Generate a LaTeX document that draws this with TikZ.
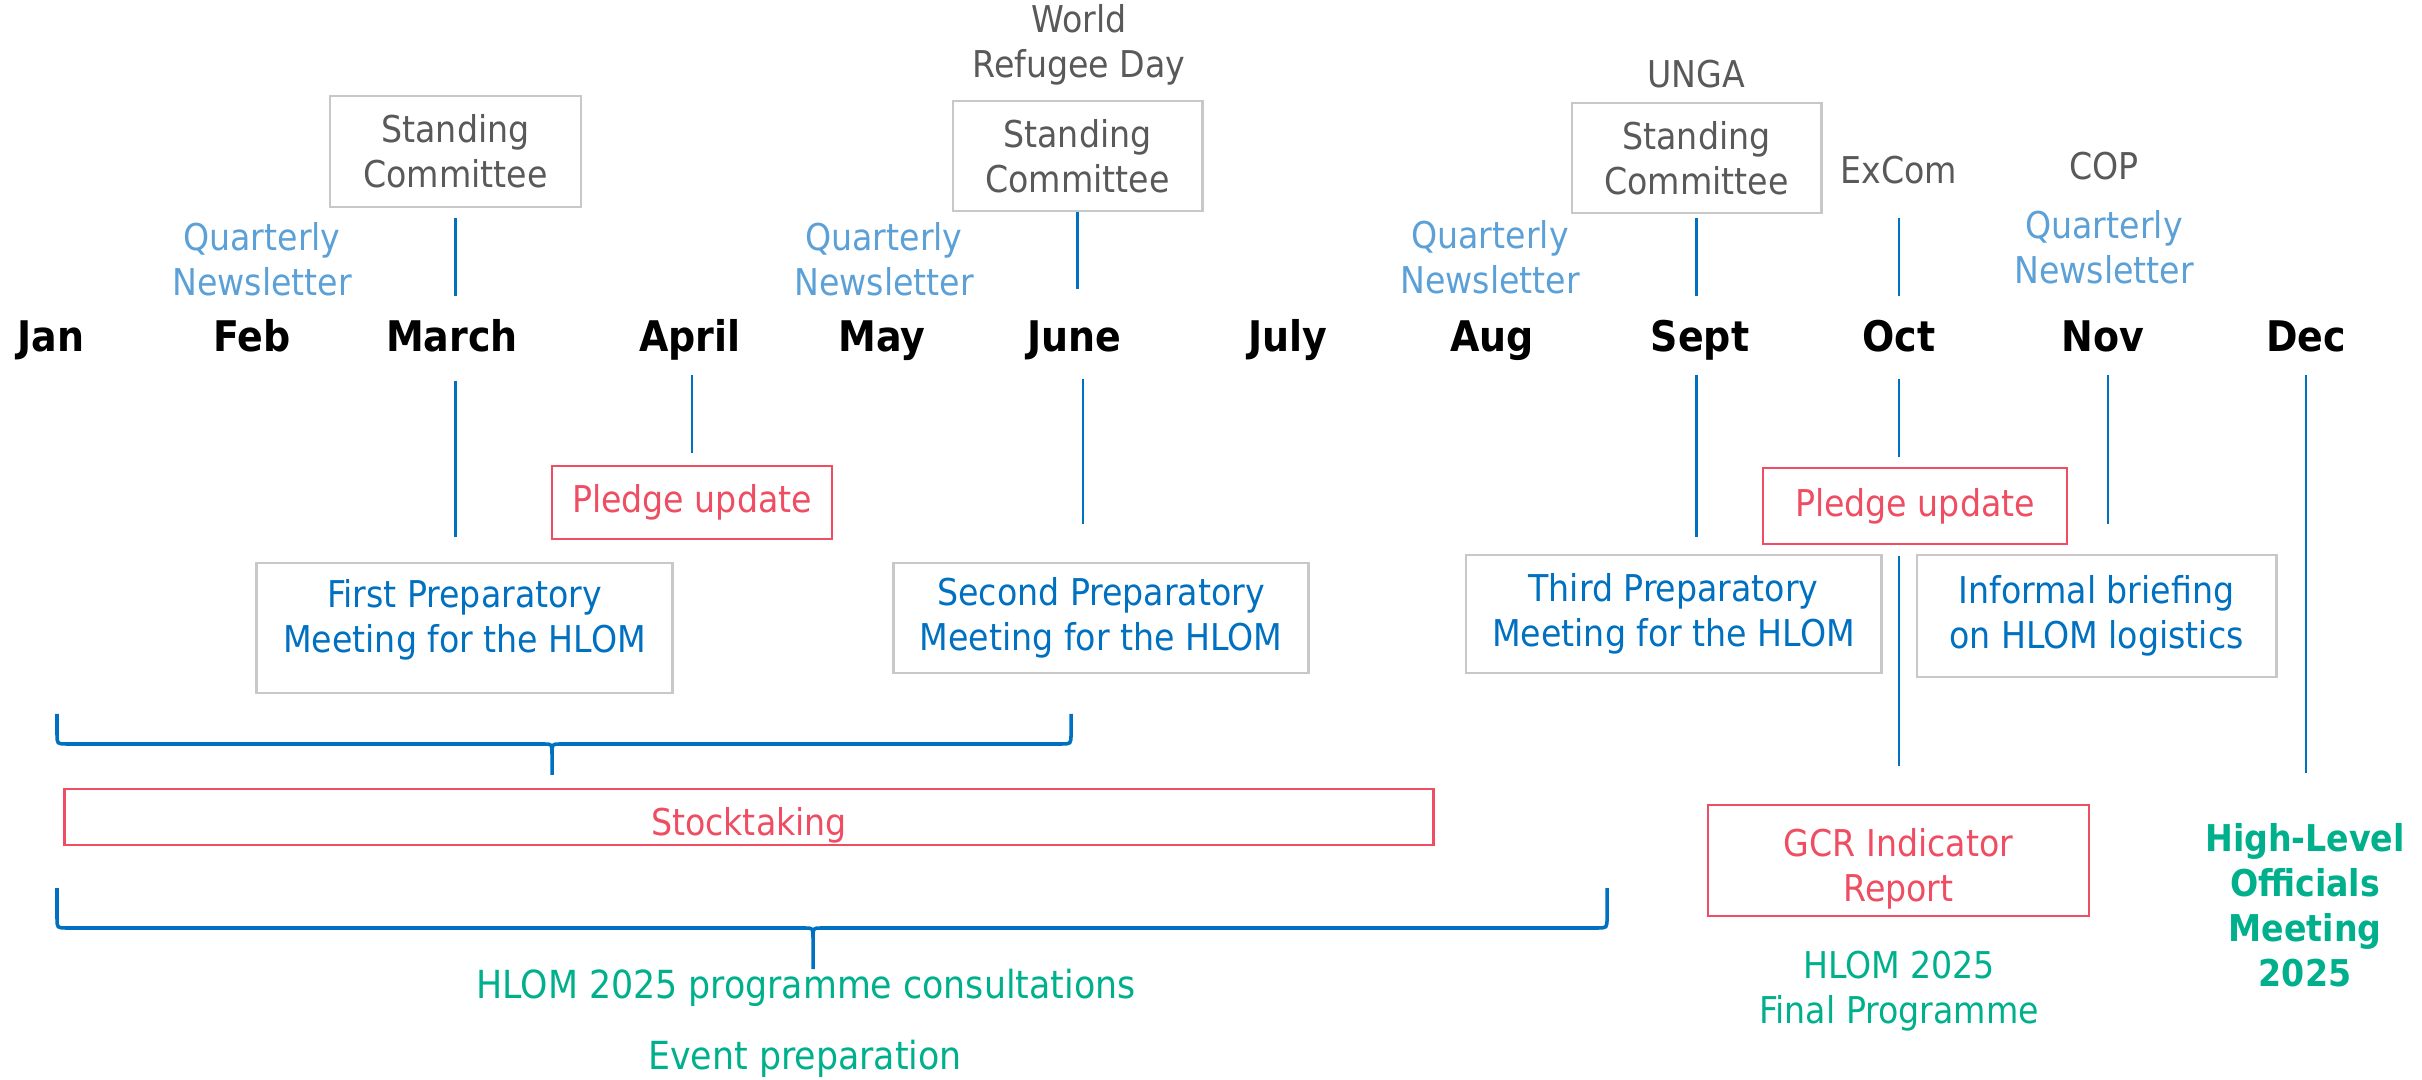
\documentclass[tikz,border=0pt]{standalone}
\usepackage{fontspec}
\setmainfont{DejaVu Sans Condensed}[BoldFont={DejaVu Sans Condensed Bold}]
\definecolor{hlblue}{RGB}{0,112,192}
\definecolor{hllight}{RGB}{91,160,214}
\definecolor{hlred}{RGB}{238,77,98}
\definecolor{hlgreen}{RGB}{0,176,140}
\definecolor{hlgrey}{RGB}{89,89,89}
\definecolor{hlframe}{RGB}{200,200,200}

\begin{document}
\begin{tikzpicture}[x=0.01cm, y=-0.01cm,
    txt/.style={font=\fontsize{10.5}{12.8}\selectfont, align=center, inner sep=0pt},
    month/.style={font=\fontsize{12}{13}\selectfont\bfseries, text height=8.7pt, text depth=0pt, minimum height=0.76cm, inner sep=0pt},
    greybox/.style={txt, draw=hlframe, line width=0.8pt, text=hlgrey},
    bluebox/.style={greybox, text=hlblue},
    redbox/.style={txt, draw=hlred, line width=0.7pt, text=hlred},
    note/.style={txt, text=hlgrey},
    news/.style={txt, text=hllight},
    vline/.style={hlblue, line width=0.7pt},
    brace/.style={hlblue, line width=1pt}]

     \useasboundingbox (0,0) rectangle (2422,1080);

     % Months
     \node[month] (jan) at (51,336) {Jan};
     \node[month] (feb) at (252,336) {Feb};
     \node[month] (march) at (452,336) {March};
     \node[month] (april) at (690,336) {April};
     \node[month] (may) at (882,336) {May};
     \node[month] (june) at (1074,336) {June};
     \node[month] (july) at (1288,336) {July};
     \node[month] (aug) at (1492,336) {Aug};
     \node[month] (sept) at (1700,336) {Sept};
     \node[month] (oct) at (1899,336) {Oct};
     \node[month] (nov) at (2103,336) {Nov};
     \node[month] (dec) at (2306,336) {Dec};

     % Above the months
     \node[greybox, minimum width=2.51cm, minimum height=1.11cm] (sc1) at (455.5,151.5) {Standing\\Committee};
     \node[greybox, minimum width=2.49cm, minimum height=1.10cm] (sc2) at (1077.5,156) {Standing\\Committee};
     \node[greybox, minimum width=2.49cm, minimum height=1.10cm] (sc3) at (1696.5,158) {Standing\\Committee};
     \node[note] (wrd) at (1079,45) {World\\Refugee Day};
     \node[note] (unga) at (1696,74) {UNGA};
     \node[note] (excom) at (1899,170) {ExCom};
     \node[note] (cop) at (2104,166) {COP};
     \node[news] (qn1) at (262,259) {Quarterly\\Newsletter};
     \node[news] (qn2) at (884,259) {Quarterly\\Newsletter};
     \node[news] (qn3) at (1490,257.5) {Quarterly\\Newsletter};
     \node[news] (qn4) at (2104,247.5) {Quarterly\\Newsletter};

     % Below the months
     \node[redbox, minimum width=2.80cm, minimum height=0.73cm] (pledge1) at (692,502.5) {Pledge update};
     \node[redbox, minimum width=3.04cm, minimum height=0.76cm] (pledge2) at (1915,506) {Pledge update};
     \node[bluebox, minimum width=4.15cm, minimum height=1.30cm, text depth=0.24cm] (prep1) at (464.5,628) {First Preparatory\\Meeting for the HLOM};
     \node[bluebox, minimum width=4.14cm, minimum height=1.10cm] (prep2) at (1101,618) {Second Preparatory\\Meeting for the HLOM};
     \node[bluebox, minimum width=4.15cm, minimum height=1.18cm] (prep3) at (1673.5,614) {Third Preparatory\\Meeting for the HLOM};
     \node[bluebox, minimum width=3.59cm, minimum height=1.22cm] (informal) at (2096.5,616) {Informal briefing\\on HLOM logistics};
     \node[redbox, minimum width=13.68cm, minimum height=0.56cm, text height=0.44cm] (stock) at (749,817) {Stocktaking};
     \node[redbox, minimum width=3.81cm, minimum height=1.11cm, text height=0.9cm] (gcr) at (1898.5,860.5) {GCR Indicator\\Report};
     \node[txt, text=hlgreen] (final) at (1899,991) {HLOM 2025\\Final Programme};
     \node[txt, font=\fontsize{10.5}{12.8}\selectfont\bfseries, text=hlgreen] (hlm) at (2305,905.5) {High-Level\\Officials\\Meeting\\2025};
     \node[txt, font=\fontsize{11}{13}\selectfont, text=hlgreen] (consult) at (806,988) {HLOM 2025 programme consultations};
     \node[txt, font=\fontsize{11}{13}\selectfont, text=hlgreen] (event) at (805,1059) {Event preparation};

     % Lines above the months
     \draw[vline, shorten <=0.1cm, shorten >=0.01cm] (sc1.south) -- (sc1.south |- march.north);
     \draw[vline, shorten >=0.08cm] (sc2.south) -- (sc2.south |- june.north);
     \draw[vline, shorten <=0.04cm, shorten >=0.01cm] (sc3.south) -- (sc3.south |- sept.north);
     \draw[vline, shorten <=0.33cm, shorten >=0.01cm] (excom.south) -- (oct.north);

     % Lines below the months
     \draw[vline, shorten <=0.06cm, shorten >=0.25cm] (sc1.south |- march.south) -- (sc1.south |- prep1.north);
     \draw[vline, shorten >=0.12cm] (april.south -| pledge1.north) -- (pledge1.north);
     \draw[vline, shorten <=0.04cm, shorten >=0.38cm] ([xshift=0.055cm]sc2.south |- june.south) -- ([xshift=0.055cm]sc2.south |- prep2.north);
     \draw[vline, shorten >=0.17cm] (sc3.south |- sept.south) -- (sc3.south |- prep3.north);
     \draw[vline, shorten <=0.04cm, shorten >=0.1cm] (oct.south) -- (oct.south |- pledge2.north);
     \draw[vline, shorten <=0.11cm, shorten >=0.38cm] (oct.south |- pledge2.south) -- (oct.south |- gcr.north);
     \draw[vline, shorten >=0.3cm] ([xshift=0.05cm]nov.south) -- ([xshift=0.05cm]nov.south |- informal.north);
     \draw[vline, shorten >=0.5cm] (dec.south) -- (dec.south |- hlm.north);

     % Brace over the first half
     \draw[brace] (57,714) -- (57,734) .. controls (57,744) .. (67,744) -- (544,744) .. controls (552,744) .. (552,754) -- (552,775);
     \draw[brace] (1071,714) -- (1071,734) .. controls (1071,744) .. (1061,744) -- (560,744) .. controls (552,744) .. (552,754);

     % Brace over the consultations
     \draw[brace] (57,888) -- (57,918) .. controls (57,928) .. (67,928) -- (805,928) .. controls (813,928) .. (813,938) -- (813,969);
     \draw[brace] (1607,888) -- (1607,918) .. controls (1607,928) .. (1597,928) -- (821,928) .. controls (813,928) .. (813,938);

\end{tikzpicture}
\end{document}
